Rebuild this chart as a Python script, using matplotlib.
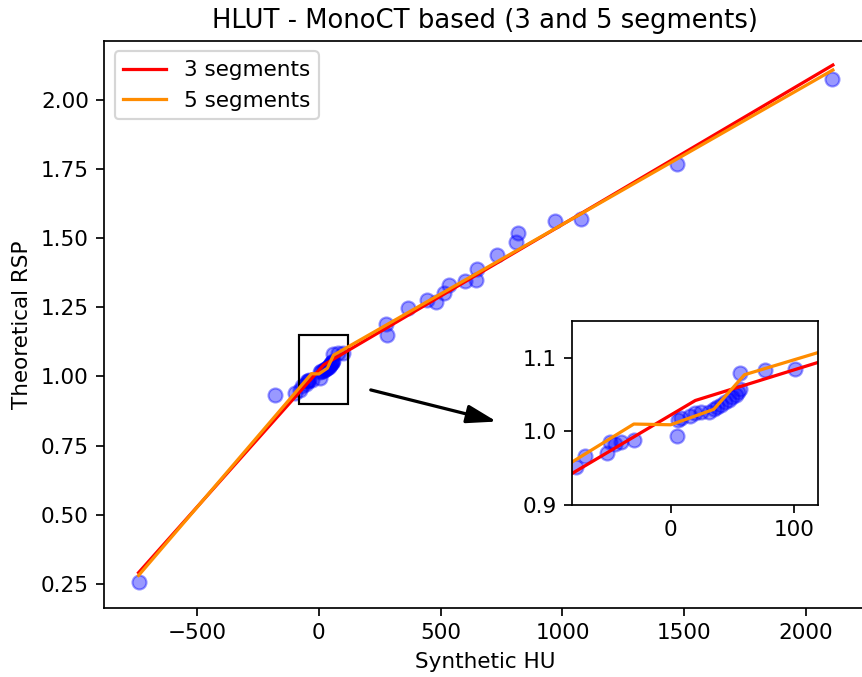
import matplotlib
matplotlib.use("Agg")
import matplotlib.pyplot as plt
from matplotlib.patches import Rectangle

# measured points (Synthetic HU, theoretical RSP)
hu_points = [-740, -182, -96, -77, -70, -52, -49, -45, -40, -30,
             5, 6, 8, 16, 20, 25, 31, 35, 38, 41, 44, 47, 50, 53, 55,
             56, 56, 77, 101,
             274, 281, 367, 442, 480, 514, 534, 600, 644, 651, 733,
             808, 819, 969, 1075, 1469, 2107]
rsp_points = [0.255, 0.934, 0.941, 0.952, 0.967, 0.971, 0.985, 0.983, 0.986, 0.988,
              0.994, 1.016, 1.018, 1.021, 1.025, 1.026, 1.026, 1.030, 1.033, 1.036, 1.040, 1.043, 1.047, 1.050, 1.053,
              1.057, 1.080, 1.084, 1.085,
              1.190, 1.150, 1.249, 1.277, 1.268, 1.301, 1.331, 1.347, 1.349, 1.388, 1.440,
              1.488, 1.518, 1.564, 1.569, 1.768, 2.075]

# piecewise linear fits
hu_3seg = [-740, 20, 1000, 2110]
rsp_3seg = [0.29, 1.042, 1.55, 2.127]
hu_5seg = [-740, -30, 0, 35, 60, 2110]
rsp_5seg = [0.28, 1.010, 1.009, 1.030, 1.077, 2.109]

zoom_x = (-80, 120)
zoom_y = (0.9, 1.15)

DPI = 155


def draw_data(ax):
    ax.scatter(hu_points, rsp_points, color="blue", alpha=0.4, s=42)
    ax.plot(hu_3seg, rsp_3seg, color="red", label="3 segments")
    ax.plot(hu_5seg, rsp_5seg, color="darkorange", label="5 segments")


def main():
    fig = plt.figure(figsize=(862 / DPI, 677 / DPI), dpi=DPI)
    ax = fig.add_axes([104 / 862, 1 - 608.3 / 677, 762 / 862, 567.6 / 677])
    draw_data(ax)
    ax.set_xlim(-882, 2246)
    ax.set_ylim(0.161, 2.215)
    ax.set_xlabel("Synthetic HU")
    ax.set_ylabel("Theoretical RSP")
    ax.set_title("HLUT - MonoCT based (3 and 5 segments)")
    ax.legend(loc="upper left")

    ax.add_patch(Rectangle((zoom_x[0], zoom_y[0]), zoom_x[1] - zoom_x[0],
                           zoom_y[1] - zoom_y[0], fill=False, edgecolor="black", lw=1))
    ax.annotate("", xy=(747, 0.833), xytext=(196, 0.955),
                arrowprops=dict(arrowstyle="-|>,head_length=0.65,head_width=0.2",
                                color="black", lw=1.5, mutation_scale=18))

    inset = fig.add_axes([572.3 / 862, 1 - 505 / 677, 246 / 862, 184 / 677])
    draw_data(inset)
    inset.set_xlim(*zoom_x)
    inset.set_ylim(*zoom_y)
    inset.set_xticks([0, 100])
    inset.set_yticks([0.9, 1.0, 1.1])

    fig.savefig("out.png", dpi=DPI)


if __name__ == "__main__":
    main()
